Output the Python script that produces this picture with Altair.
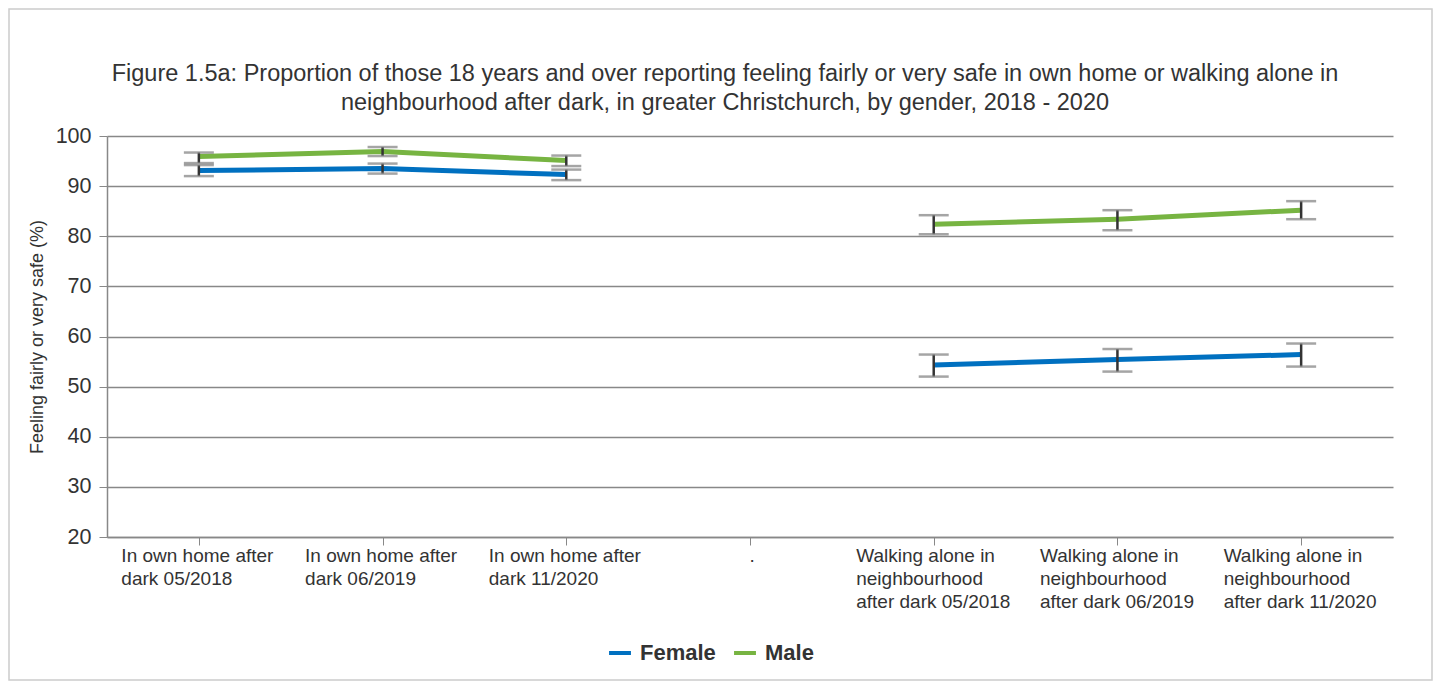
import altair as alt
import pandas as pd

title_lines = [
    "Figure 1.5a: Proportion of those 18 years and over reporting feeling fairly or very safe in own home or walking alone in",
    "neighbourhood after dark, in greater Christchurch, by gender, 2018 - 2020",
]

categories = [
    "In own home after|dark 05/2018",
    "In own home after|dark 06/2019",
    "In own home after|dark 11/2020",
    ".",
    "Walking alone in|neighbourhood|after dark 05/2018",
    "Walking alone in|neighbourhood|after dark 06/2019",
    "Walking alone in|neighbourhood|after dark 11/2020",
]
groups = ["home", "home", "home", "gap", "walk", "walk", "walk"]

female = [93.1, 93.5, 92.3, None, 54.3, 55.4, 56.4]
female_lo = [92.0, 92.5, 91.2, None, 52.0, 53.0, 54.0]
female_hi = [94.2, 94.5, 93.3, None, 56.4, 57.5, 58.6]

male = [95.9, 96.9, 95.1, None, 82.4, 83.4, 85.2]
male_lo = [94.6, 96.0, 94.0, None, 80.4, 81.2, 83.4]
male_hi = [96.7, 97.8, 96.1, None, 84.2, 85.2, 87.0]

genders = ["Female", "Male"]
colors = ["#0070C0", "#77B442"]

rows = []
for g, vals, los, his in [("Female", female, female_lo, female_hi),
                          ("Male", male, male_lo, male_hi)]:
    for c, grp, v, lo, hi in zip(categories, groups, vals, los, his):
        if v is None:
            continue
        rows.append({"cat": c, "grp": g + grp, "gender": g, "value": v, "lo": lo, "hi": hi})
df = pd.DataFrame(rows)

x_enc = alt.X(
    "cat:N",
    sort=categories,
    scale=alt.Scale(domain=categories, type="point", padding=0.5),
    axis=alt.Axis(
        title=None,
        labelAngle=0,
        labelExpr="split(datum.label, '|')",
        labelFontSize=19,
        labelLineHeight=23,
        labelAlign="left",
        labelBaseline="top",
        labelOffset={"condition": {"test": "datum.value == '.'", "value": -1}, "value": -78},
        labelPadding=1,
        labelOverlap=False,
        labelColor="#333333",
        tickSize=8,
        tickColor="#888888",
        domainColor="#888888",
        domainWidth=1.5,
        grid=False,
    ),
)
y_axis = alt.Axis(
    values=[20, 30, 40, 50, 60, 70, 80, 90, 100],
    title="Feeling fairly or very safe (%)",
    titleFontSize=18,
    titleFontWeight="normal",
    titleColor="#333333",
    titlePadding=9,
    labelFontSize=21.5,
    labelColor="#333333",
    labelPadding=8,
    tickSize=8,
    tickColor="#888888",
    domainColor="#888888",
    domainWidth=1.5,
    grid=True,
    gridColor="#888888",
    gridWidth=1.5,
)
y_scale = alt.Scale(domain=[20, 100], nice=False, zero=False)

base = alt.Chart(df)
one = pd.DataFrame({"a": [0]})

frame = alt.Chart(one).mark_rect(
    fill="transparent", stroke="#cccccc", strokeWidth=1.5
).encode(
    x=alt.value(-98), x2=alt.value(1325), y=alt.value(-127), y2=alt.value(544)
)

title = alt.Chart(one).mark_text(
    fontSize=23.5, color="#333333", align="center", baseline="alphabetic", lineHeight=28.5
).encode(
    x=alt.value(618), y=alt.value(-55), text=alt.value(title_lines)
)

lines = base.mark_line(strokeWidth=5).encode(
    x=x_enc,
    y=alt.Y("value:Q", scale=y_scale, axis=y_axis),
    color=alt.Color("gender:N", scale=alt.Scale(domain=genders, range=colors),
                    legend=alt.Legend(title=None)),
    detail="grp:N",
)

rule = base.mark_rule(color="#333333", strokeWidth=2.5).encode(
    x=alt.X("cat:N", sort=categories),
    y=alt.Y("lo:Q", scale=y_scale),
    y2="hi:Q",
)
cap_lo = base.mark_tick(color="#7f7f7f", size=30, thickness=2.5).encode(
    x=alt.X("cat:N", sort=categories),
    y=alt.Y("lo:Q", scale=y_scale),
)
cap_hi = base.mark_tick(color="#7f7f7f", size=30, thickness=2.5).encode(
    x=alt.X("cat:N", sort=categories),
    y=alt.Y("hi:Q", scale=y_scale),
)

chart = alt.layer(frame, title, lines, rule, cap_lo, cap_hi).properties(
    width=1286,
    height=401,
    autosize=alt.AutoSizeParams(type="none"),
    padding={"left": 99, "top": 128, "right": 41, "bottom": 146},
).configure(
    font="Liberation Sans",
).configure_view(
    strokeWidth=0,
).configure_legend(
    orient="none",
    legendX=500,
    legendY=504,
    direction="horizontal",
    labelFontSize=22,
    labelFontWeight="bold",
    labelColor="#333333",
    symbolType="stroke",
    symbolStrokeWidth=4,
    symbolSize=480,
    columnPadding=10,
    labelOffset=7,
)

chart.save("out.html", embed_options={"renderer": "svg", "actions": False})
